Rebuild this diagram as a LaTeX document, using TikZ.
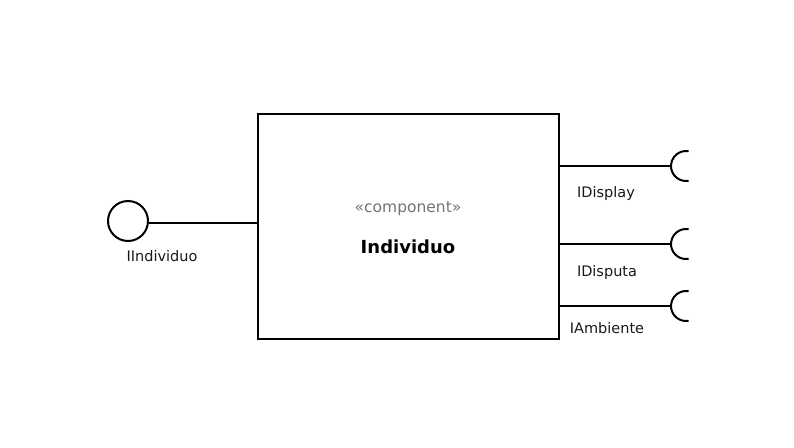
\documentclass[tikz,border=0pt]{standalone}
\usepackage{fontspec}
\setmainfont{DejaVu Sans}
\begin{document}
\begin{tikzpicture}[x=1pt,y=-1pt,
  line width=2pt,
  comp/.style={draw,rectangle,minimum width=301pt,minimum height=225pt,inner sep=0pt},
  iface/.style={draw,circle,minimum size=40pt,inner sep=0pt},
  lbl/.style={font=\fontsize{14.5}{16}\selectfont,text=black!90},
  stereo/.style={font=\fontsize{15.5}{18}\selectfont,text=black!55},
  cname/.style={font=\fontsize{18}{21}\selectfont\bfseries}]
\useasboundingbox (0,0) rectangle (794,447);
\node[comp] (c) at (408.5,226.5) {};
\node[stereo] (st) at (408,208.5) {«component»};
\node[cname] (cn) at (408,246.5) {Individuo};
\node[iface] (ii) at (128,221) {};
\coordinate (ci) at (258,223);
\draw (ii.east |- ci) -- (ci);
\node[lbl] (li) at (162,256.5) {IIndividuo};
% sockets
\coordinate (s1) at (671,166);
\coordinate (s2) at (671,244);
\coordinate (s3) at (671,306);
\coordinate (b1) at (559,166);
\coordinate (b2) at (559,244);
\coordinate (b3) at (559,306);
\draw (b1) -- (s1);
\draw (b2) -- (s2);
\draw (b3) -- (s3);
\foreach \s in {s1,s2,s3}{
  \draw (\s) ++(15,0) ++(80:15) arc[start angle=80,end angle=280,radius=15];
}
\node[lbl] (l1) at (606,193.5) {IDisplay};
\node[lbl] (l2) at (607,272.5) {IDisputa};
\node[lbl] (l3) at (607,328.5) {IAmbiente};
\end{tikzpicture}
\end{document}
